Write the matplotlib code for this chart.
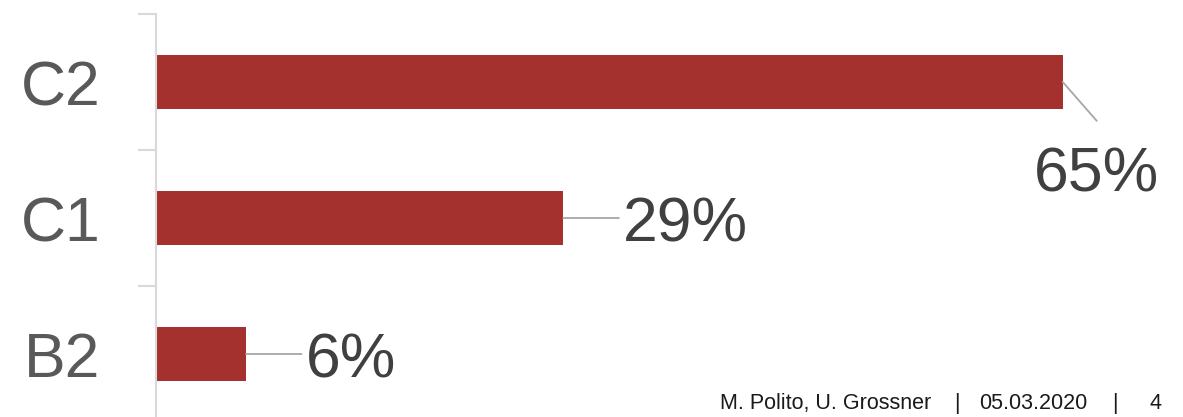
import matplotlib
matplotlib.use("Agg")
import matplotlib.pyplot as plt
from matplotlib.ticker import FixedLocator

plt.rcParams['font.family'] = ['Liberation Sans', 'DejaVu Sans']

categories = ["B2", "C1", "C2"]
values = [6.45, 29.2, 65.0]
labels = ["6%", "29%", "65%"]

W, H = 1183, 417
fig = plt.figure(figsize=(W / 100, H / 100), dpi=100)
ax_left = 156 / W
ax_bottom = -5 / H
ax_height = 408 / H
ax_width = (W - 156) / W
ax = fig.add_axes([ax_left, ax_bottom, ax_width, ax_height])

bar_color = "#A5312F"
ypos = list(range(len(categories)))
ax.barh(ypos, values, height=0.4, color=bar_color, zorder=2)

xmax = (W - 156) / 13.95
ax.set_xlim(0, xmax)
ax.set_ylim(-0.5, len(categories) - 0.5)

for s in ["top", "right", "bottom"]:
    ax.spines[s].set_visible(False)
ax.spines["left"].set_color("#d9d9d9")
ax.spines["left"].set_linewidth(1.5)
ax.set_xticks([])
ax.set_yticks(ypos)
ax.set_yticklabels(categories, fontsize=45, color="#595959")
ax.tick_params(axis="y", which="major", length=0, pad=40)
ax.yaxis.set_minor_locator(FixedLocator([i + 0.5 for i in ypos]))
ax.tick_params(axis="y", which="minor", length=13, width=1.5, color="#d9d9d9")

line_kw = dict(arrowstyle="-", color="#a6a6a6", lw=1.3, shrinkA=0, shrinkB=0)
for i, (v, lab) in enumerate(zip(values, labels)):
    if i == len(values) - 1:
        ax.annotate("", xy=(v, i), xytext=(24.5, -28), textcoords="offset points",
                    arrowprops=line_kw)
        ax.annotate(lab, xy=(v, i), xytext=(24.5, -46), textcoords="offset points",
                    ha="center", va="top", fontsize=45, color="#404040")
    else:
        ax.annotate("", xy=(v, i), xytext=(40, 0), textcoords="offset points",
                    arrowprops=line_kw)
        ax.annotate(lab, xy=(v, i), xytext=(43, 0), textcoords="offset points",
                    ha="left", va="center_baseline", fontsize=45, color="#404040")

fy = 1 - 409 / H
fc = "#1a1a1a"
fs = 15.5
fig.text(720 / W, fy, "M. Polito, U. Grossner", fontsize=fs, color=fc, ha="left", va="baseline")
fig.text(957 / W, fy, "|", fontsize=fs, color=fc, ha="center", va="baseline")
fig.text(1033 / W, fy, "05.03.2020", fontsize=fs, color=fc, ha="center", va="baseline")
fig.text(1115 / W, fy, "|", fontsize=fs, color=fc, ha="center", va="baseline")
fig.text(1155 / W, fy, "4", fontsize=fs, color=fc, ha="center", va="baseline")

fig.savefig("out.png", dpi=100)
